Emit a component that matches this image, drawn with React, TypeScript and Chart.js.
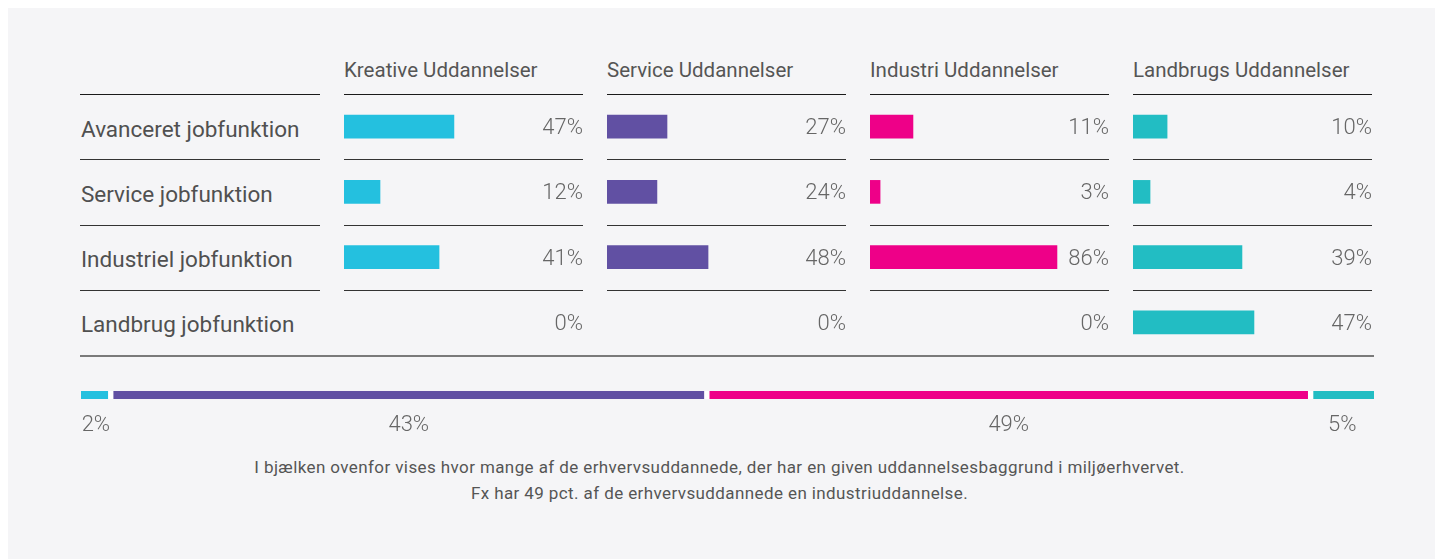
import React, { useEffect, useRef } from "react";
import { Chart, registerables } from "chart.js";

Chart.register(...registerables);

// ---------- data ----------
const rowLabels = [
  "Avanceret jobfunktion",
  "Service jobfunktion",
  "Industriel jobfunktion",
  "Landbrug jobfunktion",
];
const panelTitles = [
  "Kreative Uddannelser",
  "Service Uddannelser",
  "Industri Uddannelser",
  "Landbrugs Uddannelser",
];
const panelColors = ["#24c0df", "#6150a3", "#ee0088", "#22bdc3"];

// percentages shown as labels
const kreativePct = [47, 12, 41, 0];
const servicePct = [27, 24, 48, 0];
const industriPct = [11, 3, 86, 0];
const landbrugPct = [10, 4, 39, 47];

// bar lengths as drawn in the picture (share of panel width, 0-100)
const kreativeBar = [45.8, 15, 39.6, 0];
const serviceBar = [25, 20.8, 42.1, 0];
const industriBar = [17.9, 4.2, 77.9, 0];
const landbrugBar = [14.2, 7.1, 45.4, 50.4];

// bottom overview bar
const totalPct = [2, 43, 49, 5];
const totalBar = [2.3, 46.1, 46.7, 4.9];

const footnoteLines = [
  "I bjælken ovenfor vises hvor mange af de erhvervsuddannede, der har en given uddannelsesbaggrund i miljøerhvervet.",
  "Fx har 49 pct. af de erhvervsuddannede en industriuddannelse.",
];

const panelPct = [kreativePct, servicePct, industriPct, landbrugPct];
const panelBar = [kreativeBar, serviceBar, industriBar, landbrugBar];

// ---------- layout (page px) ----------
const OX = 8;
const OY = 8;
const panelLefts = [344, 607, 870, 1133];
const PANEL_W = 240;
const TOP_LINE = 94;
const BOTTOM_LINE = 355;
const FONT = "Roboto, 'Noto Sans', sans-serif";

const pctLabelPlugin = {
  id: "pctLabels",
  afterDatasetsDraw(chart: any, _args: any, opts: any) {
    const { ctx, chartArea, scales } = chart;
    ctx.save();
    ctx.font = `300 22px ${FONT}`;
    ctx.fillStyle = "#666666";
    ctx.textAlign = "right";
    ctx.textBaseline = "middle";
    (opts.values as number[]).forEach((v, i) => {
      ctx.fillText(`${v}%`, chartArea.right - 1, scales.y.getPixelForValue(i) + 2);
    });
    ctx.restore();
  },
};

const totalLabelPlugin = {
  id: "totalLabels",
  afterDatasetsDraw(chart: any, _args: any, opts: any) {
    const { ctx } = chart;
    ctx.save();
    ctx.font = `300 22px ${FONT}`;
    ctx.fillStyle = "#666666";
    ctx.textAlign = "center";
    ctx.textBaseline = "middle";
    (opts.values as number[]).forEach((v, i) => {
      const el = chart.getDatasetMeta(i).data[0] as any;
      const cx = (el.x + el.base) / 2;
      ctx.fillText(`${v}%`, cx, opts.labelY);
    });
    ctx.restore();
  },
};

function PanelChart({ idx }: { idx: number }) {
  const ref = useRef<HTMLCanvasElement | null>(null);
  useEffect(() => {
    if (!ref.current) return;
    const chart = new Chart(ref.current, {
      type: "bar",
      data: {
        labels: rowLabels,
        datasets: [
          {
            data: panelBar[idx].map((v) => (v === 0 ? null : v)),
            backgroundColor: panelColors[idx],
            borderWidth: 0,
            barThickness: 23,
          },
        ],
      },
      options: {
        indexAxis: "y",
        animation: false,
        responsive: false,
        maintainAspectRatio: false,
        events: [],
        layout: { padding: 0 },
        scales: {
          x: { display: false, min: 0, max: 100 },
          y: { display: false },
        },
        plugins: {
          legend: { display: false },
          tooltip: { enabled: false },
          pctLabels: { values: panelPct[idx] },
        } as any,
      },
      plugins: [pctLabelPlugin],
    } as any);
    return () => chart.destroy();
  }, [idx]);
  return (
    <canvas
      ref={ref}
      width={PANEL_W}
      height={BOTTOM_LINE - TOP_LINE}
      style={{
        position: "absolute",
        left: panelLefts[idx] - OX,
        top: TOP_LINE - OY,
        width: PANEL_W,
        height: BOTTOM_LINE - TOP_LINE,
      }}
    />
  );
}

function TotalChart() {
  const ref = useRef<HTMLCanvasElement | null>(null);
  const left = 81;
  const top = 380;
  const w = 1293;
  const h = 65;
  useEffect(() => {
    if (!ref.current) return;
    const chart = new Chart(ref.current, {
      type: "bar",
      data: {
        labels: [""],
        datasets: totalBar.map((v, i) => ({
          data: [v],
          backgroundColor: panelColors[i],
          borderColor: "#ffffff",
          borderSkipped: false,
          borderWidth: {
            top: 0,
            bottom: 0,
            left: i > 0 ? 3 : 0,
            right: i < totalBar.length - 1 ? 3 : 0,
          },
          barThickness: 8,
        })),
      },
      options: {
        indexAxis: "y",
        animation: false,
        responsive: false,
        maintainAspectRatio: false,
        events: [],
        layout: { padding: { top: 0, bottom: h - 30, left: 0, right: 0 } },
        scales: {
          x: { display: false, stacked: true, min: 0, max: 100 },
          y: { display: false, stacked: true },
        },
        plugins: {
          legend: { display: false },
          tooltip: { enabled: false },
          totalLabels: { values: totalPct, labelY: 425 - top },
        } as any,
      },
      plugins: [totalLabelPlugin],
    } as any);
    return () => chart.destroy();
  }, []);
  return (
    <canvas
      ref={ref}
      width={w}
      height={h}
      style={{ position: "absolute", left: left - OX, top: top - OY, width: w, height: h }}
    />
  );
}

function HLine({ x1, x2, y, color, thick }: { x1: number; x2: number; y: number; color: string; thick: number }) {
  return (
    <div
      style={{
        position: "absolute",
        left: x1 - OX,
        top: y - OY,
        width: x2 - x1,
        height: thick,
        background: color,
      }}
    />
  );
}

export default function App() {
  const rowH = (BOTTOM_LINE - TOP_LINE) / 4;
  const lineYs = [0, 1, 2, 3].map((k) => Math.round(TOP_LINE + rowH * k));
  const columns: [number, number][] = [[80, 320], ...panelLefts.map((l) => [l, l + 239] as [number, number])];
  return (
    <div
      style={{
        position: "absolute",
        left: OX,
        top: OY,
        width: 1435 - OX,
        height: 559 - OY,
        background: "#f5f5f7",
        fontFamily: FONT,
        overflow: "hidden",
      }}
    >
      {panelTitles.map((t, i) => (
        <div
          key={t}
          style={{
            position: "absolute",
            left: panelLefts[i] - OX,
            top: 58 - OY,
            fontSize: 20.5,
            lineHeight: "24px",
            color: "#555555",
            whiteSpace: "nowrap",
          }}
        >
          {t}
        </div>
      ))}
      {lineYs.map((y, k) =>
        columns.map(([a, b], j) => (
          <HLine key={`${k}-${j}`} x1={a} x2={b} y={y} color={k === 0 ? "#1a1a1a" : "#333333"} thick={1} />
        ))
      )}
      <HLine x1={80} x2={1374} y={BOTTOM_LINE} color="#7a7a7a" thick={2} />
      {rowLabels.map((r, i) => (
        <div
          key={r}
          style={{
            position: "absolute",
            left: 81 - OX,
            top: TOP_LINE + rowH * (i + 0.5) - 13 + 2 - OY,
            fontSize: 22.5,
            lineHeight: "26px",
            color: "#505050",
            whiteSpace: "nowrap",
          }}
        >
          {r}
        </div>
      ))}
      {[0, 1, 2, 3].map((i) => (
        <PanelChart key={i} idx={i} />
      ))}
      <TotalChart />
      <div
        style={{
          position: "absolute",
          left: 0,
          width: 1435 - 2 * OX + 4,
          top: 454 - OY,
          textAlign: "center",
          fontSize: 17,
          letterSpacing: "0.4px",
          lineHeight: "26px",
          color: "#555555",
        }}
      >
        {footnoteLines.map((l) => (
          <div key={l}>{l}</div>
        ))}
      </div>
    </div>
  );
}
